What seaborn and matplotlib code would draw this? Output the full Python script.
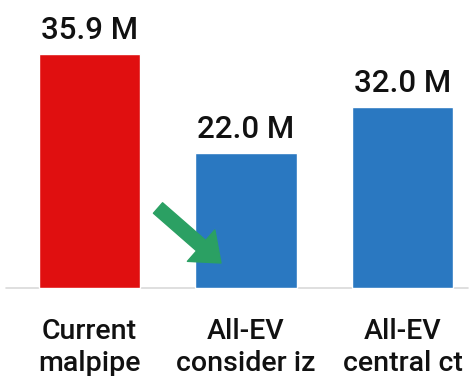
import matplotlib
matplotlib.use("Agg")
import matplotlib.pyplot as plt
import seaborn as sns
import pandas as pd

# Data
categories = ["Current\nmalpipe", "All-EV\nconsider iz", "All-EV\ncentral ct"]
value_labels = ["35.9 M", "22.0 M", "32.0 M"]
bar_heights = [35.9, 20.7, 27.8]  # drawn heights as they appear in the picture
colors = ["#e00f10", "#2a78c1", "#2a78c1"]

sns.set_style("white")
plt.rcParams["font.family"] = ["Roboto", "DejaVu Sans"]

df = pd.DataFrame({"cat": categories, "h": bar_heights})

fig = plt.figure(figsize=(4.7, 3.76), dpi=100)
ax = fig.add_axes([0, 0, 1, 1])
sns.barplot(data=df, x="cat", y="h", hue="cat", palette=colors, legend=False,
            width=0.65, ax=ax, saturation=1)

ax.set_xlim(-0.572, 2.431)
ax.set_ylim(-13.5, 44.19)
for s in ax.spines.values():
    s.set_visible(False)
ax.set_xticks([])
ax.set_yticks([])
ax.set_xlabel("")
ax.set_ylabel("")

# baseline
ax.axhline(0, xmin=0.012, xmax=0.995, color="#d9d9d9", lw=1.2, zorder=0)

# value labels
for i, (h, lab) in enumerate(zip(bar_heights, value_labels)):
    ax.text(i, h + 2.35, lab, ha="center", va="baseline", fontsize=22.5,
            fontweight="medium", color="#111111")

# category labels (anchor = baseline of last line)
for i, cat in enumerate(categories):
    ax.text(i, -12.7, cat, ha="center", va="baseline", fontsize=20.5,
            fontweight="medium", color="#111111", linespacing=1.22)

# green arrow
ax.annotate("", xy=(221, 376 - 263), xycoords="figure pixels",
            xytext=(158, 376 - 208), textcoords="figure pixels",
            arrowprops=dict(arrowstyle="simple,head_length=0.95,head_width=1.5,tail_width=0.5",
                            color="#2ba063", mutation_scale=20, shrinkA=0, shrinkB=0))

fig.savefig("out.png", dpi=100)
